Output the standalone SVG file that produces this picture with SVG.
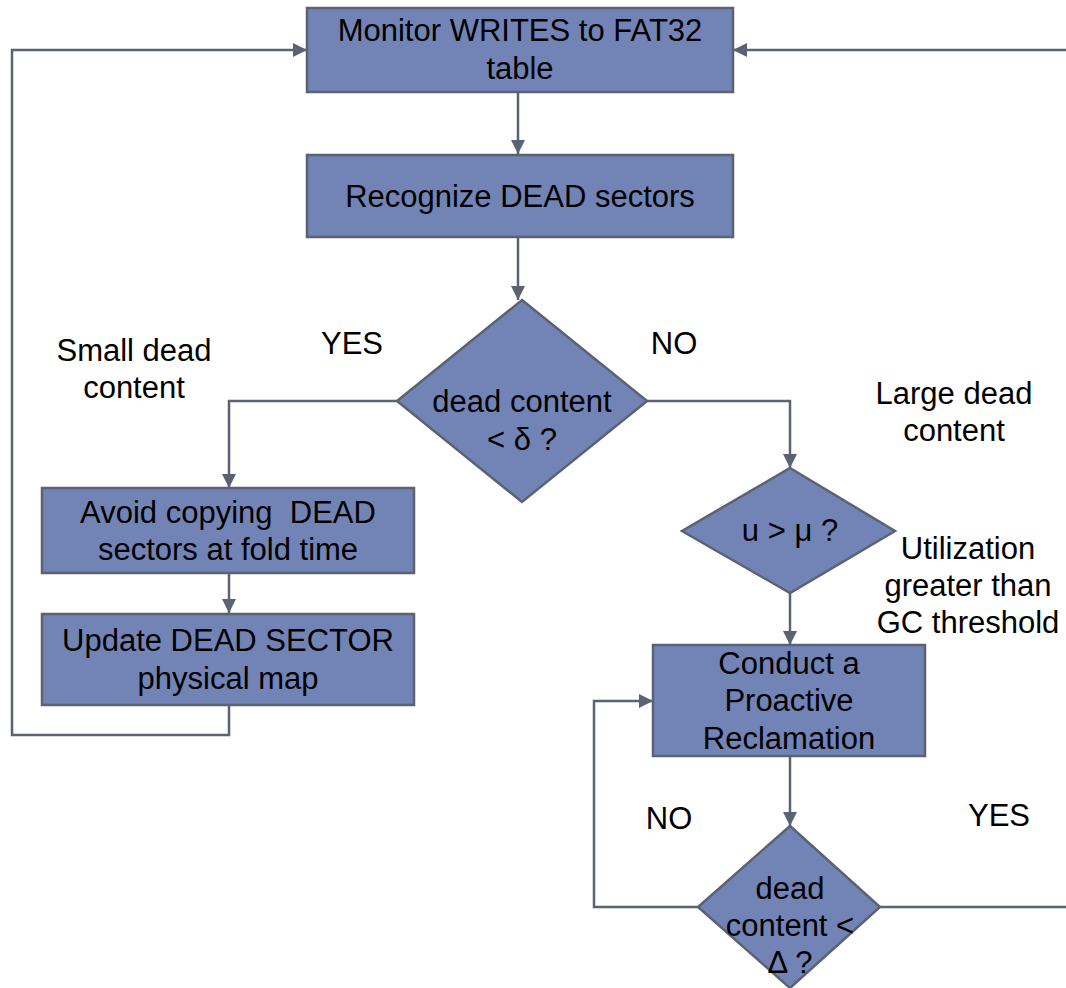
<svg xmlns="http://www.w3.org/2000/svg" width="1066" height="988" viewBox="0 0 1066 988">
<style>
.n{fill:#7284b6;stroke:#5b6271;stroke-width:2.5}
.c{fill:none;stroke:#5b6271;stroke-width:2.5}
text{font-family:"Liberation Sans",Arial,sans-serif;font-size:31px;fill:#000;text-anchor:middle;dominant-baseline:central;white-space:pre}
</style>
<defs>
<marker id="ah" viewBox="0 0 10 10" refX="10" refY="5" markerWidth="14" markerHeight="14" markerUnits="userSpaceOnUse" orient="auto">
<path d="M0,0 L10,5 L0,10 z" fill="#5b6271"/>
</marker>
</defs>
<rect width="1066" height="988" fill="#fff"/>
<g id="connectors">
<path class="c" d="M518,92 V154" marker-end="url(#ah)"/>
<path class="c" d="M518,237 V300" marker-end="url(#ah)"/>
<path class="c" d="M397,401 H229 V488" marker-end="url(#ah)"/>
<path class="c" d="M229,573 V613" marker-end="url(#ah)"/>
<path class="c" d="M229,705 V735 H12 V50 H307" marker-end="url(#ah)"/>
<path class="c" d="M647,401 H790 V468" marker-end="url(#ah)"/>
<path class="c" d="M790,593 V645" marker-end="url(#ah)"/>
<path class="c" d="M790,756 V826" marker-end="url(#ah)"/>
<path class="c" d="M698,907 H594 V701 H653" marker-end="url(#ah)"/>
<path class="c" d="M880,907 H1069 V50 H733" marker-end="url(#ah)"/>
</g>
<g id="monitor">
<rect class="n" x="307" y="8" width="426" height="84"/>
<text x="520" y="30">Monitor WRITES to FAT32</text>
<text x="520" y="68">table</text>
</g>
<g id="recognize">
<rect class="n" x="307" y="155" width="426" height="82"/>
<text x="520" y="196">Recognize DEAD sectors</text>
</g>
<g id="decision1">
<polygon class="n" points="522,300 647,401 522,502 397,401"/>
<text x="522" y="401">dead content</text>
<text x="522" y="439">&lt; δ ?</text>
</g>
<g id="avoid">
<rect class="n" x="42" y="488" width="372" height="85"/>
<text x="228" y="512" xml:space="preserve">Avoid copying  DEAD</text>
<text x="228" y="549">sectors at fold time</text>
</g>
<g id="update">
<rect class="n" x="42" y="614" width="372" height="91"/>
<text x="228" y="640">Update DEAD SECTOR</text>
<text x="228" y="678">physical map</text>
</g>
<g id="decision2">
<polygon class="n" points="790,468 895,531 790,593 682,531"/>
<text x="790" y="530">u &gt; μ ?</text>
</g>
<g id="conduct">
<rect class="n" x="653" y="645" width="272" height="111"/>
<text x="789" y="663">Conduct a</text>
<text x="789" y="700">Proactive</text>
<text x="789" y="738">Reclamation</text>
</g>
<g id="decision3">
<polygon class="n" points="790,826 880,907 790,988 698,907"/>
<text x="790" y="888">dead</text>
<text x="790" y="925">content &lt;</text>
<text x="790" y="962">Δ ?</text>
</g>
<g id="labels">
<text x="352" y="343">YES</text>
<text x="674" y="343">NO</text>
<text x="134" y="350">Small dead</text>
<text x="134" y="387">content</text>
<text x="954" y="393">Large dead</text>
<text x="954" y="430">content</text>
<text x="968" y="548">Utilization</text>
<text x="968" y="585">greater than</text>
<text x="968" y="622">GC threshold</text>
<text x="669" y="818">NO</text>
<text x="999" y="815">YES</text>
</g>
</svg>
